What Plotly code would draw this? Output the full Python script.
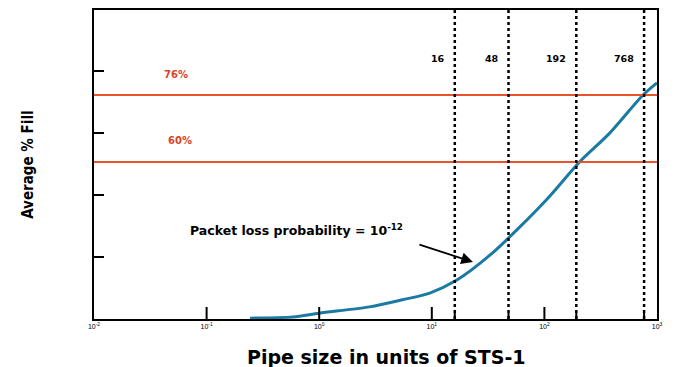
import math
import plotly.graph_objects as go

# Average fill vs pipe size (log scale), packet loss probability = 1e-12
pipe_size = [0.243, 0.585, 1.0, 2.8, 5.5, 9.6, 16.7, 33, 59, 112, 205, 380, 752, 1000]
avg_fill = [22.7, 23.0, 23.9, 25.4, 27.1, 28.7, 31.8, 37.8, 44.2, 51.9, 60.0, 66.9, 76.0, 78.9]

# Reference fill levels
fill_levels = [76, 60]
fill_labels = ["76%", "60%"]

# Pipe sizes marked with vertical dotted lines
marked_sizes = [16, 48, 192, 768]
marked_labels = ["16", "48", "192", "768"]

x_tickvals = [0.01, 0.1, 1, 10, 100, 1000]
x_ticktext = ["10<sup>-2</sup>", "10<sup>-1</sup>", "10<sup>0</sup>",
              "10<sup>1</sup>", "10<sup>2</sup>", "10<sup>3</sup>"]

FONT = "Liberation Sans, Arial"
WIDE = "DejaVu Sans, Verdana"
NARROW = "Liberation Sans Narrow, DejaVu Sans Condensed, Arial Narrow"

Y_MIN, Y_MAX = 22.5, 96.3
PX_PER_UNIT = 309 / (Y_MAX - Y_MIN)

fig = go.Figure()

for lvl in fill_levels:
    fig.add_shape(type="line", xref="paper", yref="y", x0=0, x1=1, y0=lvl, y1=lvl,
                  line=dict(color="#e8532b", width=2))

for s in marked_sizes:
    fig.add_shape(type="line", xref="x", yref="paper", x0=s, x1=s, y0=0, y1=1,
                  line=dict(color="black", width=2.5, dash="dot"))

fig.add_trace(go.Scatter(
    x=pipe_size, y=avg_fill, mode="lines",
    line=dict(color="#1a7aa2", width=3, shape="spline", smoothing=0.8),
    showlegend=False, hoverinfo="skip",
))

# Inward tick marks on the bottom axis: long at decades, short at marked sizes
for vals, length in ((x_tickvals[1:-1], 10), (marked_sizes, 5)):
    fig.add_trace(go.Scatter(
        x=vals, y=[Y_MIN + (length / 2) / PX_PER_UNIT] * len(vals), mode="markers",
        marker=dict(symbol="line-ns", size=length, line=dict(color="black", width=2)),
        showlegend=False, hoverinfo="skip", cliponaxis=False,
    ))

# Fill-level labels
for lvl, lab, xpos in zip(fill_levels, fill_labels, [0.121, 0.128]):
    fig.add_annotation(x=xpos, xref="paper", y=lvl, yref="y", text="<b>" + lab + "</b>",
                       showarrow=False, yshift=21,
                       font=dict(family=WIDE, size=10, color="#d9442a"))

# Pipe size labels next to the dotted lines (annotation x is log10 on a log axis)
for s, lab in zip(marked_sizes, marked_labels):
    fig.add_annotation(x=math.log10(s), xref="x", y=84.8, yref="y", text="<b>" + lab + "</b>",
                       showarrow=False, xanchor="right", xshift=-8,
                       font=dict(family=WIDE, size=9.5, color="black"))

# Packet-loss note and its arrow pointing at the curve
fig.add_annotation(
    x=(188 - 94) / 563, xref="paper", y=(413.25 - 230) / 4.1875, yref="y",
    text="<b>Packet loss probability = 10<sup>-12</sup></b>", showarrow=False,
    xanchor="left", font=dict(family=WIDE, size=12.5, color="black"),
)
fig.add_annotation(
    x=math.log10(23.2), y=36.1, xref="x", yref="y", ax=-55, ay=-18,
    text="", showarrow=True,
    arrowhead=2, arrowsize=1.3, arrowwidth=1.8, arrowcolor="black",
)

# Axis titles
fig.add_annotation(x=0.52, xref="paper", y=-0.082, yref="paper", yanchor="top",
                   text="<b>Pipe size in units of STS-1</b>", showarrow=False,
                   font=dict(family=WIDE, size=19, color="black"))
fig.add_annotation(x=-0.138, xref="paper", y=0.5, yref="paper", textangle=-90,
                   text="<b>Average % Fill</b>", showarrow=False,
                   font=dict(family=NARROW, size=15, color="black"))

fig.update_layout(
    width=675, height=367,
    margin=dict(l=94, r=18, t=10, b=48, autoexpand=False),
    paper_bgcolor="white", plot_bgcolor="white",
    xaxis=dict(
        type="log", range=[-2, 3], showgrid=False, zeroline=False, automargin=False,
        showline=True, linecolor="black", linewidth=2, mirror=True,
        ticks="", tickvals=x_tickvals, ticktext=x_ticktext,
        tickfont=dict(family=FONT, size=7, color="black"),
    ),
    yaxis=dict(
        range=[Y_MIN, Y_MAX], showgrid=False, zeroline=False, automargin=False,
        showline=True, linecolor="black", linewidth=2, mirror=True,
        ticks="inside", ticklen=10, tickwidth=2, tickcolor="black",
        tick0=Y_MIN, dtick=14.8, showticklabels=False,
    ),
)

fig.write_html("out.html")
